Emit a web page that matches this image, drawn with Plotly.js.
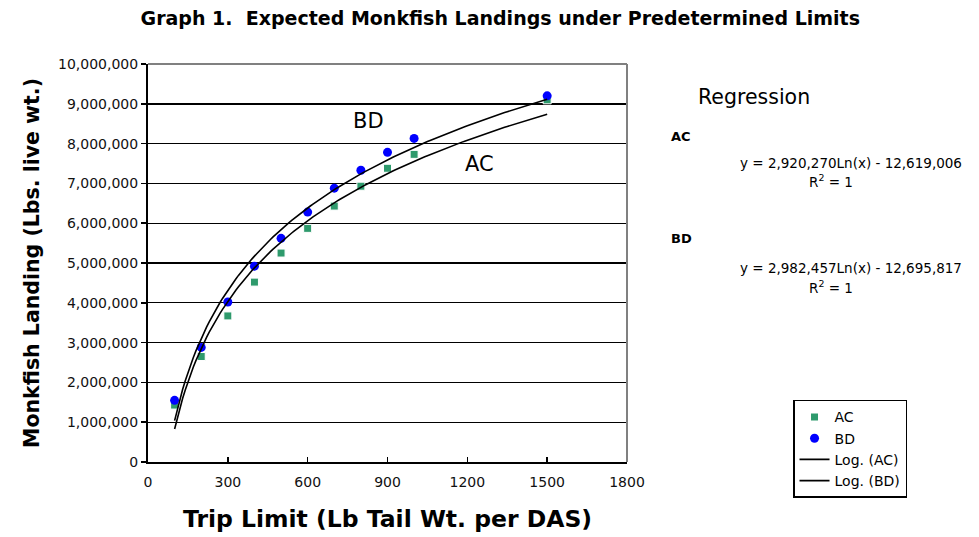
<!DOCTYPE html>
<html>
<head>
<meta charset="utf-8">
<script src="https://cdn.plot.ly/plotly-3.0.1.min.js"></script>
<style>html,body{margin:0;padding:0;background:#fff;}#chart{width:979px;height:537px;}</style>
</head>
<body>
<div id="chart"></div>
<script>
// Trip limits (lb tail wt. per DAS)
var tripLimits = [100, 200, 300, 400, 500, 600, 700, 800, 900, 1000, 1500];
// Expected landings (lbs live wt.)
var acLandings = [1430000, 2650000, 3670000, 4520000, 5250000, 5870000, 6430000, 6930000, 7380000, 7730000, 9100000];
var bdLandings = [1550000, 2880000, 4020000, 4920000, 5620000, 6280000, 6880000, 7330000, 7780000, 8130000, 9200000];
// Regression coefficients shown on the chart: y = a*Ln(x) + b
var acCoef = {a: 2920270, b: -12619006};
var bdCoef = {a: 2982457, b: -12695817};
var trendX = [];
for (var t = 100; t <= 1500; t += 10) trendX.push(t);
function trend(c){ return trendX.map(function(x){ return c.a*Math.log(x) + c.b; }); }

var font = '"DejaVu Sans", Arial, sans-serif';
var traces = [
  {x: tripLimits, y: acLandings, type: 'scatter', mode: 'markers', name: 'AC',
   marker: {symbol: 'square', size: 8, color: '#2e9a6c', line: {color: '#ffffff', width: 1}}},
  {x: tripLimits, y: bdLandings, type: 'scatter', mode: 'markers', name: 'BD',
   marker: {symbol: 'circle', size: 9, color: '#0000ff'}},
  {x: trendX, y: trend(acCoef), type: 'scatter', mode: 'lines', name: 'Log. (AC)',
   line: {color: '#000000', width: 1.6}},
  {x: trendX, y: trend(bdCoef), type: 'scatter', mode: 'lines', name: 'Log. (BD)',
   line: {color: '#000000', width: 1.6}}
];

var layout = {
  width: 979, height: 537,
  margin: {l: 148, r: 352, t: 64, b: 75},
  paper_bgcolor: '#ffffff', plot_bgcolor: '#ffffff',
  font: {family: font, color: '#000000', size: 13},
  showlegend: true,
  title: {text: '<b>Graph 1.  Expected Monkfish Landings under Predetermined Limits</b>',
          font: {family: font, size: 19, color: '#000'}, x: 0.511, xanchor: 'center', y: 0.965, yanchor: 'middle'},
  xaxis: {range: [0, 1800], dtick: 300, tick0: 0, showgrid: false, zeroline: false,
          showline: true, linecolor: '#000', linewidth: 2, ticks: 'inside', ticklen: 5, tickcolor: '#000', tickwidth: 1.5,
          ticklabelstandoff: 6,
          tickfont: {family: font, size: 14, color: '#111'},
          title: {text: '<b>Trip Limit (Lb Tail Wt. per DAS)</b>', font: {family: font, size: 23.5, color: '#000'}, standoff: 22}},
  yaxis: {range: [0, 10000000], dtick: 1000000, tick0: 0, tickformat: ',d', showgrid: true, gridcolor: '#000', gridwidth: 1.4,
          zeroline: false, showline: true, linecolor: '#000', linewidth: 2, ticks: 'outside', ticklen: 5, tickcolor: '#000', tickwidth: 1.5,
          tickfont: {family: font, size: 14, color: '#111'},
          title: {text: '<b>Monkfish Landing (Lbs. live wt.)</b>', font: {family: font, size: 20.5, color: '#000'}, standoff: 13}},
  legend: {x: 1.3466, xanchor: 'left', y: 0.156, yanchor: 'top', bordercolor: '#000', borderwidth: 1.5,
           bgcolor: '#fff', font: {family: font, size: 14, color: '#000'}, tracegroupgap: 0, itemwidth: 30},
  shapes: [
    {type: 'line', xref: 'paper', yref: 'paper', x0: 0, x1: 1, y0: 1, y1: 1, line: {color: '#808080', width: 2}},
    {type: 'line', xref: 'paper', yref: 'paper', x0: 1, x1: 1, y0: 0, y1: 1, line: {color: '#808080', width: 2}}
  ],
  annotations: [
    {text: 'BD', x: 827, y: 8570000, xref: 'x', yref: 'y', showarrow: false, yanchor: 'middle', font: {family: font, size: 21, color: '#000'}},
    {text: 'AC', x: 1247, y: 7490000, xref: 'x', yref: 'y', showarrow: false, yanchor: 'middle', font: {family: font, size: 21, color: '#000'}},
    {text: 'Regression', x: 1.266, y: 0.917, xref: 'paper', yref: 'paper', xanchor: 'center', yanchor: 'middle', showarrow: false, font: {family: font, size: 20.5, color: '#000'}},
    {text: '<b>AC</b>', x: 1.088, y: 0.817, xref: 'paper', yref: 'paper', xanchor: 'left', yanchor: 'middle', showarrow: false, font: {family: font, size: 13, color: '#000'}},
    {text: 'y = 2,920,270Ln(x) - 12,619,006', x: 1.4676, y: 0.752, xref: 'paper', yref: 'paper', xanchor: 'center', yanchor: 'middle', showarrow: false, font: {family: font, size: 13.5, color: '#000'}},
    {text: 'R<sup>2</sup> = 1', x: 1.426, y: 0.707, xref: 'paper', yref: 'paper', xanchor: 'center', yanchor: 'middle', showarrow: false, font: {family: font, size: 13.5, color: '#000'}},
    {text: '<b>BD</b>', x: 1.088, y: 0.562, xref: 'paper', yref: 'paper', xanchor: 'left', yanchor: 'middle', showarrow: false, font: {family: font, size: 13, color: '#000'}},
    {text: 'y = 2,982,457Ln(x) - 12,695,817', x: 1.4676, y: 0.488, xref: 'paper', yref: 'paper', xanchor: 'center', yanchor: 'middle', showarrow: false, font: {family: font, size: 13.5, color: '#000'}},
    {text: 'R<sup>2</sup> = 1', x: 1.426, y: 0.44, xref: 'paper', yref: 'paper', xanchor: 'center', yanchor: 'middle', showarrow: false, font: {family: font, size: 13.5, color: '#000'}}
  ]
};
Plotly.newPlot('chart', traces, layout, {displayModeBar: false, staticPlot: true});
</script>
</body>
</html>
